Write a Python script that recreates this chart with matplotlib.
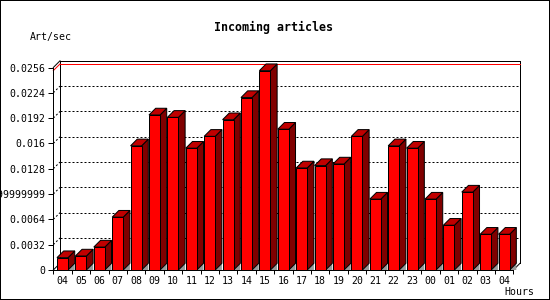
import matplotlib
matplotlib.use("Agg")
import matplotlib.pyplot as plt
from matplotlib.patches import Polygon, Rectangle

# data
hours = ['04', '05', '06', '07', '08', '09', '10', '11', '12', '13', '14', '15',
         '16', '17', '18', '19', '20', '21', '22', '23', '00', '01', '02', '03', '04']
rate = [0.00156, 0.00177, 0.0029, 0.00668, 0.0157, 0.0196, 0.0193, 0.0154,
        0.0169, 0.0190, 0.0218, 0.0252, 0.0178, 0.0129, 0.0132, 0.0134,
        0.0169, 0.00896, 0.0157, 0.0154, 0.00896, 0.00566, 0.00985, 0.00452, 0.00452]
yticks = [0, 0.0032, 0.0064, 0.0096, 0.0128, 0.016, 0.0192, 0.0224, 0.0256]
ylabels = ['0', '0.0032', '0.0064', '0.0095999999999', '0.0128', '0.016',
           '0.0192', '0.0224', '0.0256']

font = 'DejaVu Sans Mono'
plt.rcParams['font.family'] = font

fig = plt.figure(figsize=(5.5, 3), dpi=100)
W, H = 550, 300
# front frame of the 3d box, in pixels
x0, x1 = 53.3, 513.3
y0, y1 = 270, 67.5
ax = fig.add_axes([x0 / W, 1 - y0 / H, (x1 - x0) / W, (y0 - y1) / H])

n = len(rate)
top = yticks[-1]
ax.set_xlim(0, n)
ax.set_ylim(0, top)

# depth of the 3d effect, converted to data units
depth_px_x, depth_px_y = 6.7, 6.7
dx = depth_px_x / ((x1 - x0) / n)
dy = depth_px_y / ((y0 - y1) / top)

lw = 0.72
kw = dict(clip_on=False)

# back wall and side wall
ax.plot([dx, dx], [dy, top + dy], color='black', lw=lw, zorder=1, **kw)
ax.plot([dx, n + dx], [top + dy, top + dy], color='black', lw=lw, zorder=1, **kw)
ax.plot([n + dx, n + dx], [dy, top + dy], color='black', lw=lw, zorder=1, **kw)
ax.plot([0, dx], [top, top + dy], color='black', lw=lw, zorder=1, **kw)
ax.plot([0, dx], [0, dy], color='black', lw=lw, zorder=1, **kw)
ax.plot([n, n + dx], [0, dy], color='black', lw=lw, zorder=1, **kw)

for v in yticks[1:-1]:
    ax.plot([dx, n + dx], [v + dy, v + dy], color='black', lw=lw,
            linestyle=(0, (2, 2)), zorder=1, **kw)
    ax.plot([0, dx], [v, v + dy], color='black', lw=lw,
            linestyle=(0, (2, 2)), zorder=1, **kw)

# max line
vmax = max(rate)
ax.plot([dx, n + dx], [vmax + dy, vmax + dy], color='red', lw=lw, zorder=1.2, **kw)
ax.plot([0, dx], [vmax, vmax + dy], color='red', lw=lw, zorder=1.2, **kw)

# 3d bars
bw = 0.6
for i, v in enumerate(rate):
    left = i + 0.5 - bw / 2
    right = i + 0.5 + bw / 2
    z = 2 + i * 0.01
    ax.add_patch(Polygon([(right, 0), (right + dx, dy), (right + dx, 0)],
                         closed=True, facecolor='#999999', edgecolor='none',
                         zorder=z, **kw))
    ax.add_patch(Polygon([(right, 0), (right, v), (right + dx, v + dy), (right + dx, dy)],
                         closed=True, facecolor='#800000', edgecolor='black',
                         lw=lw, zorder=z, **kw))
    ax.add_patch(Polygon([(left, v), (right, v), (right + dx, v + dy), (left + dx, v + dy)],
                         closed=True, facecolor='#c00000', edgecolor='black',
                         lw=lw, zorder=z, **kw))
ax.bar([i + 0.5 for i in range(n)], rate, width=bw, color='#ff0000',
       edgecolor='black', linewidth=lw, zorder=2.5)

# axes
for s in ['top', 'right']:
    ax.spines[s].set_visible(False)
for s in ['left', 'bottom']:
    ax.spines[s].set_linewidth(lw)
    ax.spines[s].set_zorder(3)

ax.set_yticks(yticks, labels=ylabels)
ax.tick_params(axis='y', length=3.6, width=lw, pad=1.8, labelsize=7.1)
ax.set_xticks(range(n + 1), labels=[])
ax.set_xticks([i + 0.5 for i in range(n)], labels=hours, minor=True)
ax.tick_params(axis='x', which='major', length=2.9, width=lw)
ax.tick_params(axis='x', which='minor', length=0, pad=4, labelsize=7.1)

fig.text(274 / W, 1 - 27 / H, 'Incoming articles', ha='center', va='center',
         fontsize=8.4, fontweight='bold', family=font)
fig.text(30 / W, 1 - 37 / H, 'Art/sec', ha='left', va='center', fontsize=7.1, family=font)
fig.text(504 / W, 1 - 292 / H, 'Hours', ha='left', va='center', fontsize=7.1, family=font)

# outer border
fig.patches.append(Rectangle((0, 0), 1, 1, transform=fig.transFigure, fill=False,
                             edgecolor='black', linewidth=1.44))

fig.savefig('out.png', dpi=100)
